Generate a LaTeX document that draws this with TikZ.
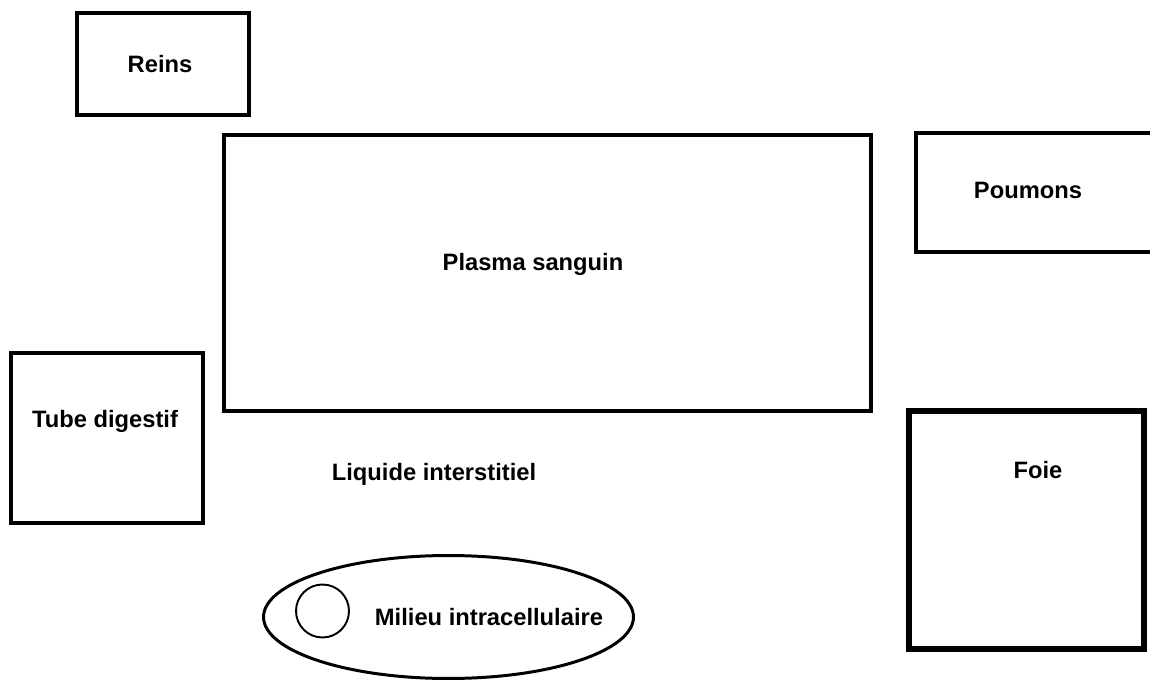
\documentclass[tikz,border=0pt]{standalone}
\usepackage{fontspec}
\setmainfont{Liberation Sans}
\usepackage{tikz}
\usetikzlibrary{shapes.geometric}

\tikzset{
  organ/.style={draw, line width=2.3pt, inner sep=0pt},
  label/.style={anchor=base, inner sep=0pt, font=\bfseries\fontsize{13.5}{16}\selectfont}
}

\begin{document}
\begin{tikzpicture}[x=0.02cm, y=-0.02cm]
        \useasboundingbox (0,0) rectangle (1150,682);
        % compartments
        \node[organ, minimum width=3.44cm, minimum height=2.04cm] (reins) at (163,64) {};
        \node[organ, minimum width=12.94cm, minimum height=5.52cm] (plasma) at (547.5,273) {};
        \node[organ, minimum width=4.88cm, minimum height=2.38cm] (poumons) at (1038,192.5) {};
        \node[organ, minimum width=3.84cm, minimum height=3.4cm] (tube) at (107,438) {};
        \node[organ, line width=3.4pt, minimum width=4.7cm, minimum height=4.76cm] (foie) at (1026.5,530) {};
        \node[draw, ellipse, line width=1.7pt, inner sep=0pt, minimum width=7.4cm, minimum height=2.46cm] (milieu) at (448.5,617) {};
        \node[draw, circle, line width=1.1pt, inner sep=0pt, minimum size=1.06cm] (cellule) at (322.5,611) {};
        % labels
        \node[label] (reinstxt) at (160,73) {Reins};
        \node[label] (plasmatxt) at (533,271) {Plasma sanguin};
        \node[label] (poumonstxt) at (1028,199) {Poumons};
        \node[label] (tubetxt) at (105,427) {Tube digestif};
        \node[label] (liquidetxt) at (434,480) {Liquide interstitiel};
        \node[label] (foietxt) at (1038,478) {Foie};
        \node[label] (milieutxt) at (489,625) {Milieu intracellulaire};
    \end{tikzpicture}
\end{document}
